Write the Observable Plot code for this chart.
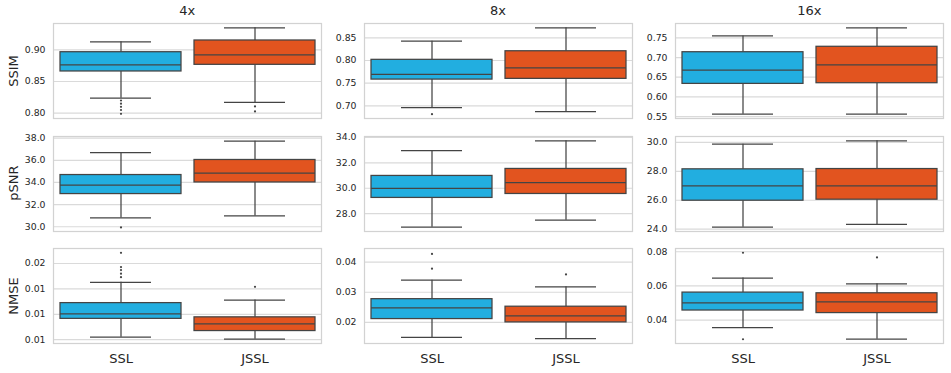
<!DOCTYPE html>
<html><head><meta charset="utf-8">
<script src="https://cdn.jsdelivr.net/npm/d3@7"></script>
<script src="https://cdn.jsdelivr.net/npm/@observablehq/plot@0.6"></script>
<style>
body{margin:0;background:#fff;font-family:"DejaVu Sans",sans-serif}
#chart{position:relative;width:951px;height:373px;overflow:hidden;background:#fff}
#chart svg{position:absolute;overflow:visible}
.t{position:absolute;color:#262626;font-size:13px;white-space:nowrap;line-height:1}
</style></head><body><div id="chart"></div>
<script>
const methods = ["SSL", "JSSL"];
const colors = ["#22AEE0", "#E2541F"];
const scales = ["4x", "8x", "16x"];
const metrics = ["SSIM", "pSNR", "NMSE"];

// box stats per method: [lower whisker, q1, median, q3, upper whisker]
const ssim4x = [[0.8237, 0.8658, 0.8763, 0.8962, 0.9126], [0.8169, 0.8763, 0.8920, 0.9147, 0.9347]];
const ssim8x = [[0.6965, 0.7580, 0.7697, 0.8015, 0.8426], [0.6877, 0.7596, 0.7838, 0.8204, 0.8720]];
const ssim16x = [[0.5559, 0.6330, 0.6679, 0.7135, 0.7550], [0.5559, 0.6347, 0.6814, 0.7273, 0.7755]];
const psnr4x = [[30.79, 32.95, 33.76, 34.67, 36.70], [30.97, 34.00, 34.85, 36.03, 37.73]];
const psnr8x = [[26.94, 29.24, 30.00, 30.97, 32.95], [27.49, 29.55, 30.45, 31.52, 33.73]];
const psnr16x = [[24.14, 25.97, 26.99, 28.14, 29.88], [24.33, 26.04, 26.99, 28.16, 30.11]];
const nmse4x = [[0.0055, 0.0091, 0.0101, 0.0122, 0.0163], [0.0051, 0.0067, 0.0081, 0.0094, 0.0128]];
const nmse8x = [[0.0150, 0.0211, 0.0248, 0.0277, 0.0340], [0.0146, 0.0200, 0.0222, 0.0252, 0.0318]];
const nmse16x = [[0.0356, 0.0456, 0.0501, 0.0561, 0.0646], [0.0288, 0.0441, 0.0507, 0.0557, 0.0612]];

// outliers per method
const ssim4xOut = [[0.8200, 0.8150, 0.8100, 0.8050, 0.7990], [0.8106, 0.8027]];
const ssim8xOut = [[0.6818], []];
const ssim16xOut = [[], []];
const psnr4xOut = [[29.94], []];
const psnr8xOut = [[], []];
const psnr16xOut = [[], []];
const nmse4xOut = [[0.0221, 0.0193, 0.0187, 0.0180, 0.0173], [0.0154]];
const nmse8xOut = [[0.0427, 0.0378], [0.0359]];
const nmse16xOut = [[0.0794, 0.0288], [0.0767]];

// y-axis limits
const ssim4xDom = [0.7916, 0.9415], ssim8xDom = [0.6723, 0.8815], ssim16xDom = [0.545, 0.7865];
const psnr4xDom = [29.57, 38.15], psnr8xDom = [26.6, 34.07], psnr16xDom = [23.84, 30.41];
const nmse4xDom = [0.00425, 0.02295], nmse8xDom = [0.013, 0.0445], nmse16xDom = [0.0263, 0.0819];

// ticks and their labels
const ssim4xTicks = [0.80, 0.85, 0.90], ssim4xLabels = ["0.80", "0.85", "0.90"];
const ssim8xTicks = [0.70, 0.75, 0.80, 0.85], ssim8xLabels = ["0.70", "0.75", "0.80", "0.85"];
const ssim16xTicks = [0.55, 0.60, 0.65, 0.70, 0.75], ssim16xLabels = ["0.55", "0.60", "0.65", "0.70", "0.75"];
const psnr4xTicks = [30, 32, 34, 36, 38], psnr4xLabels = ["30.0", "32.0", "34.0", "36.0", "38.0"];
const psnr8xTicks = [28, 30, 32, 34], psnr8xLabels = ["28.0", "30.0", "32.0", "34.0"];
const psnr16xTicks = [24, 26, 28, 30], psnr16xLabels = ["24.0", "26.0", "28.0", "30.0"];
const nmse4xTicks = [0.005, 0.010, 0.015, 0.020], nmse4xLabels = ["0.01", "0.01", "0.01", "0.02"];
const nmse8xTicks = [0.02, 0.03, 0.04], nmse8xLabels = ["0.02", "0.03", "0.04"];
const nmse16xTicks = [0.04, 0.06, 0.08], nmse16xLabels = ["0.04", "0.06", "0.08"];

const grid = [
  [
    {stats: ssim4x, out: ssim4xOut, dom: ssim4xDom, ticks: ssim4xTicks, labels: ssim4xLabels},
    {stats: ssim8x, out: ssim8xOut, dom: ssim8xDom, ticks: ssim8xTicks, labels: ssim8xLabels},
    {stats: ssim16x, out: ssim16xOut, dom: ssim16xDom, ticks: ssim16xTicks, labels: ssim16xLabels}
  ],
  [
    {stats: psnr4x, out: psnr4xOut, dom: psnr4xDom, ticks: psnr4xTicks, labels: psnr4xLabels},
    {stats: psnr8x, out: psnr8xOut, dom: psnr8xDom, ticks: psnr8xTicks, labels: psnr8xLabels},
    {stats: psnr16x, out: psnr16xOut, dom: psnr16xDom, ticks: psnr16xTicks, labels: psnr16xLabels}
  ],
  [
    {stats: nmse4x, out: nmse4xOut, dom: nmse4xDom, ticks: nmse4xTicks, labels: nmse4xLabels},
    {stats: nmse8x, out: nmse8xOut, dom: nmse8xDom, ticks: nmse8xTicks, labels: nmse8xLabels},
    {stats: nmse16x, out: nmse16xOut, dom: nmse16xDom, ticks: nmse16xTicks, labels: nmse16xLabels}
  ]
];

const colLeft = [53.3, 364, 675.3];
const rowTop = [23.3, 135.5, 248];
const frameW = 268, frameH = 95;
const mL = 50, mR = 4, mT = 4;
const edge = "#444444";
const lw = 1.25;

const chart = document.getElementById("chart");

function panel(cfg, bottom) {
  const rows = methods.map((m, i) => ({
    method: m, lo: cfg.stats[i][0], q1: cfg.stats[i][1], med: cfg.stats[i][2], q3: cfg.stats[i][3], hi: cfg.stats[i][4]
  }));
  const outs = [];
  cfg.out.forEach((arr, i) => arr.forEach(v => outs.push({method: methods[i], value: v})));
  const labelMap = new Map(cfg.ticks.map((t, i) => [t, cfg.labels[i]]));
  const mB = bottom ? 30 : 4;
  const cap = 30;
  return Plot.plot({
    width: mL + frameW + mR,
    height: mT + frameH + mB,
    marginLeft: mL, marginRight: mR, marginTop: mT, marginBottom: mB,
    style: {fontFamily: "DejaVu Sans", background: "transparent", overflow: "visible"},
    x: {type: "band", domain: methods, paddingInner: 0.1, paddingOuter: 0.05, axis: null},
    y: {domain: cfg.dom, axis: null},
    color: {domain: methods, range: colors},
    marks: [
      Plot.gridY(cfg.ticks, {stroke: "#dadada", strokeOpacity: 1, strokeWidth: 1.2}),
      Plot.axisY(cfg.ticks, {tickSize: 0, tickPadding: 8, fontSize: 9.3, fill: "#262626", label: null, tickFormat: d => labelMap.get(d)}),
      bottom ? Plot.axisX({tickSize: 0, tickPadding: 10, fontSize: 13, fill: "#262626", label: null}) : null,
      Plot.ruleX(rows, {x: "method", y1: "lo", y2: "q1", stroke: edge, strokeWidth: lw}),
      Plot.ruleX(rows, {x: "method", y1: "q3", y2: "hi", stroke: edge, strokeWidth: lw}),
      Plot.tickY(rows, {x: "method", y: "lo", insetLeft: cap, insetRight: cap, stroke: edge, strokeWidth: lw}),
      Plot.tickY(rows, {x: "method", y: "hi", insetLeft: cap, insetRight: cap, stroke: edge, strokeWidth: lw}),
      Plot.barY(rows, {x: "method", y1: "q1", y2: "q3", fill: "method", stroke: edge, strokeWidth: lw}),
      Plot.tickY(rows, {x: "method", y: "med", stroke: edge, strokeWidth: lw}),
      Plot.dot(outs, {x: "method", y: "value", r: 1.1, fill: edge, stroke: null}),
      Plot.frame({stroke: "#d2d2d2", strokeWidth: 1.25})
    ]
  });
}

grid.forEach((row, r) => {
  row.forEach((cfg, c) => {
    const svg = panel(cfg, r === 2);
    svg.style.left = (colLeft[c] - mL) + "px";
    svg.style.top = (rowTop[r] - mT) + "px";
    chart.appendChild(svg);
  });
});

scales.forEach((s, c) => {
  const d = document.createElement("div");
  d.className = "t";
  d.textContent = s;
  d.style.left = (colLeft[c] + frameW / 2) + "px";
  d.style.top = "10px";
  d.style.transform = "translate(-50%,-50%)";
  chart.appendChild(d);
});

metrics.forEach((m, r) => {
  const d = document.createElement("div");
  d.className = "t";
  d.textContent = m;
  d.style.fontSize = "13px";
  d.style.left = "12.5px";
  d.style.top = (rowTop[r] + frameH / 2) + "px";
  d.style.transform = "translate(-50%,-50%) rotate(-90deg)";
  chart.appendChild(d);
});
</script>
</body></html>
